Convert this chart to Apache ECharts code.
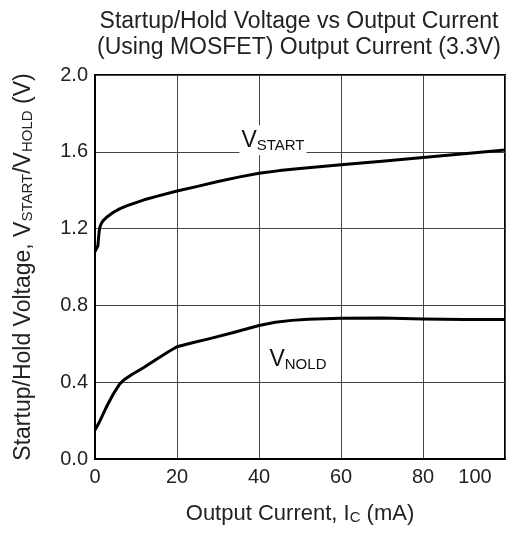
<!DOCTYPE html>
<html>
<head>
<meta charset="utf-8">
<script src="https://cdn.jsdelivr.net/npm/echarts@6/dist/echarts.min.js"></script>
<style>
html,body{margin:0;padding:0;background:#fff;}
#chart{width:512px;height:536px;}
</style>
</head>
<body>
<div id="chart"></div>
<script>
// ---- data ----
var titleLines = ['Startup/Hold Voltage vs Output Current', '(Using MOSFET) Output Current (3.3V)'];
var xTicks = [0, 20, 40, 60, 80, 100];
var yTicks = [0.0, 0.4, 0.8, 1.2, 1.6, 2.0];

var startCurrent = [0, 0.4, 0.7, 0.9, 1.1, 1.5, 2, 3, 4.5, 6, 7.7, 10, 12, 15, 20, 25, 30, 35, 40, 45, 50, 60, 70, 80, 90, 100];
var startVoltage = [1.08, 1.08, 1.11, 1.16, 1.2, 1.225, 1.242, 1.262, 1.285, 1.303, 1.318, 1.335, 1.35, 1.368, 1.396, 1.42, 1.445, 1.468, 1.488, 1.502, 1.513, 1.532, 1.551, 1.57, 1.59, 1.609];

var holdCurrent = [0, 1, 2, 3, 4.5, 6, 7, 9, 12, 15, 18, 20, 24, 28, 34, 40, 44, 48, 52, 60, 70, 80, 90, 100];
var holdVoltage = [0.151, 0.19, 0.235, 0.28, 0.34, 0.39, 0.411, 0.44, 0.478, 0.52, 0.56, 0.585, 0.607, 0.627, 0.66, 0.695, 0.712, 0.722, 0.728, 0.733, 0.734, 0.729, 0.727, 0.726];

var startLabelAt = [43.4, 1.66];
var holdLabelAt = [49.5, 0.52];

function pairs(xs, ys) { return xs.map(function (x, i) { return [x, ys[i]]; }); }

var FONT = 'Liberation Sans';
var chart = echarts.init(document.getElementById('chart'), null, { renderer: 'canvas' });

function labelMark(coord, main, sub, bg) {
  return {
    symbol: 'rect',
    symbolSize: [1, 1],
    itemStyle: { color: 'rgba(0,0,0,0)' },
    data: [{ coord: coord }],
    label: {
      show: true,
      position: 'inside',
      formatter: '{v|' + main + '}{s|' + sub + '}',
      backgroundColor: bg,
      padding: [0, 2, 0, 2],
      rich: {
        v: { fontFamily: FONT, fontSize: 23, color: '#111', lineHeight: 30, verticalAlign: 'middle' },
        s: { fontFamily: FONT, fontSize: 15, color: '#111', lineHeight: 30, verticalAlign: 'bottom', padding: [0, 0, 2, 0] }
      }
    }
  };
}

chart.setOption({
  animation: false,
  backgroundColor: '#fff',
  title: {
    text: titleLines.join('\n'),
    left: 294,
    top: 4,
    textAlign: 'center',
    textStyle: { fontFamily: FONT, fontSize: 23, fontWeight: 'normal', color: '#222', lineHeight: 26 }
  },
  grid: { left: 95, right: 7, top: 75, bottom: 77, show: true, borderColor: '#000', borderWidth: 2, backgroundColor: 'transparent' },
  xAxis: {
    type: 'value',
    min: xTicks[0],
    max: xTicks[xTicks.length - 1],
    interval: 20,
    name: '{a|Output Current, I}{s|C}{a| (mA)}',
    nameLocation: 'middle',
    nameGap: 42,
    nameTextStyle: {
      rich: {
        a: { fontFamily: FONT, fontSize: 22, color: '#222', lineHeight: 26, verticalAlign: 'middle' },
        s: { fontFamily: FONT, fontSize: 15, color: '#222', lineHeight: 26, verticalAlign: 'bottom', padding: [0, 0, 2, 0] }
      }
    },
    axisLine: { show: true, lineStyle: { color: '#000', width: 2 } },
    axisTick: { show: false },
    splitLine: { show: true, lineStyle: { color: '#444', width: 1 } },
    axisLabel: {
      margin: 8,
      fontFamily: FONT,
      fontSize: 20,
      color: '#222',
      showMaxLabel: true,
      formatter: function (v) { return v === 100 ? '{r|100}' : String(v); },
      rich: { r: { fontFamily: FONT, fontSize: 20, color: '#222', padding: [0, 60, 0, 0] } }
    }
  },
  yAxis: {
    type: 'value',
    min: yTicks[0],
    max: yTicks[yTicks.length - 1],
    interval: 0.4,
    name: '{a|Startup/Hold Voltage, V}{s|START}{a|/V}{s|HOLD}{a| (V)}',
    nameLocation: 'middle',
    nameRotate: 90,
    nameGap: 57,
    nameTextStyle: {
      rich: {
        a: { fontFamily: FONT, fontSize: 23, color: '#222', lineHeight: 28, verticalAlign: 'middle' },
        s: { fontFamily: FONT, fontSize: 15, color: '#222', lineHeight: 28, verticalAlign: 'bottom', padding: [0, 0, 3, 0] }
      }
    },
    axisLine: { show: true, lineStyle: { color: '#000', width: 2 } },
    axisTick: { show: false },
    splitLine: { show: true, lineStyle: { color: '#444', width: 1 } },
    axisLabel: {
      margin: 7,
      fontFamily: FONT,
      fontSize: 20,
      color: '#222',
      formatter: function (v) { return v.toFixed(1); }
    }
  },
  series: [
    {
      name: 'VSTART',
      type: 'line',
      data: pairs(startCurrent, startVoltage),
      showSymbol: false,
      smooth: false,
      lineStyle: { color: '#000', width: 3, join: 'round' },
      z: 5,
      markPoint: labelMark(startLabelAt, 'V', 'START', '#fff')
    },
    {
      name: 'VHOLD',
      type: 'line',
      data: pairs(holdCurrent, holdVoltage),
      showSymbol: false,
      smooth: false,
      lineStyle: { color: '#000', width: 3, join: 'round' },
      z: 5,
      markPoint: labelMark(holdLabelAt, 'V', 'NOLD', 'transparent')
    }
  ]
});
</script>
</body>
</html>
